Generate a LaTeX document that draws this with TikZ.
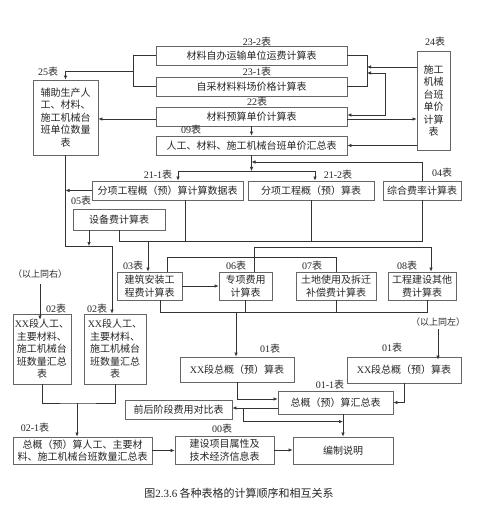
\documentclass[tikz,border=0pt]{standalone}
\usepackage{fontspec}
\setmainfont{Noto Sans CJK SC}
\newfontfamily\lat{Liberation Serif}
\usetikzlibrary{arrows.meta}
\newcommand{\tb}[1]{{\lat #1}表}

\begin{document}
\begin{tikzpicture}[x=1pt, y=-1pt,
  tbox/.style={draw=black!60, line width=0.8pt, fill=white, inner sep=0pt, align=center, text=black!85, font=\fontsize{10}{12.5}\selectfont},
  sz/.style 2 args={minimum width=#1pt, minimum height=#2pt},
  lbl/.style={inner sep=0pt, text=black!85, font=\fontsize{10}{12}\selectfont},
  note/.style={inner sep=0pt, text=black!85, font=\fontsize{9}{11}\selectfont},
  conn/.style={draw=black!80, line width=0.6pt},
  arr/.style={-{Latex[length=4pt,width=3.4pt]}},
  arr2/.style={{Latex[length=4pt,width=3.4pt]}-{Latex[length=4pt,width=3.4pt]}}]
\useasboundingbox (0,0) rectangle (480,510);

\node[tbox, sz={65}{75}] (b25) at (65.5,117.5) {辅助生产人\\工、材料、\\施工机械台\\班单位数量\\表};
\node[tbox, sz={191}{19}] (b232) at (251.5,55.5) {材料自办运输单位运费计算表};
\node[tbox, sz={191}{19}] (b231) at (251.5,86.5) {自采材料料场价格计算表};
\node[tbox, sz={191}{19}] (b22) at (251.5,116.5) {材料预算单价计算表};
\node[tbox, sz={191}{19}] (b09) at (251.5,145.5) {人工、材料、施工机械台班单价汇总表};
\node[tbox, sz={33}{99}] (b24) at (433.5,100.5) {施工\\机械\\台班\\单价\\计算\\表};
\node[tbox, sz={151}{19}] (b211) at (167.5,190.5) {分项工程概（预）算计算数据表};
\node[tbox, sz={126}{19}] (b212) at (311,190.5) {分项工程概（预）算表};
\node[tbox, sz={78}{19}] (b04) at (422,190.5) {综合费率计算表};
\node[tbox, sz={92}{21}] (b05) at (119,219.5) {设备费计算表};
\node[tbox, sz={65}{28}] (b03) at (149.5,286) {建筑安装工\\程费计算表};
\node[tbox, sz={53}{28}] (b06) at (245.5,286) {专项费用\\计算表};
\node[tbox, sz={80}{28}] (b07) at (336,286) {土地使用及拆迁\\补偿费计算表};
\node[tbox, sz={68}{28}] (b08) at (422,286) {工程建设其他\\费计算表};
\node[tbox, sz={114}{25}] (b01L) at (237,369.5) {{\lat XX}段总概（预）算表};
\node[tbox, sz={114}{26}] (b01R) at (404,370) {{\lat XX}段总概（预）算表};
\node[tbox, sz={58}{70}] (b02L) at (42,349) {{\lat XX}段人工、\\主要材料、\\施工机械台\\班数量汇总\\表};
\node[tbox, sz={62}{70}] (b02R) at (115,349) {{\lat XX}段人工、\\主要材料、\\施工机械台\\班数量汇总\\表};
\node[tbox, sz={139}{27}] (b021) at (82.5,450.5) {总概（预）算人工、主要材\\料、施工机械台班数量汇总表};
\node[tbox, sz={99}{28}] (b00) at (224.5,450) {建设项目属性及\\技术经济信息表};
\node[tbox, sz={107}{19}] (bqh) at (178.5,409.5) {前后阶段费用对比表};
\node[tbox, sz={115}{23}] (b011) at (335.5,402.5) {总概（预）算汇总表};
\node[tbox, sz={100}{27}] (bsm) at (343,450.5) {编制说明};

\node[lbl] (l25) at (48,72) {\tb{25}};
\node[lbl] (l232) at (257,42) {\tb{23-2}};
\node[lbl] (l231) at (257,72) {\tb{23-1}};
\node[lbl] (l22) at (257,102) {\tb{22}};
\node[lbl] (l09) at (191,130) {\tb{09}};
\node[lbl] (l24) at (435,42) {\tb{24}};
\node[lbl] (l211) at (158,175) {\tb{21-1}};
\node[lbl] (l212) at (338,175) {\tb{21-2}};
\node[lbl] (l04) at (442,173) {\tb{04}};
\node[lbl] (l05) at (81,201) {\tb{05}};
\node[lbl] (l03) at (133,266) {\tb{03}};
\node[lbl] (l06) at (236,266) {\tb{06}};
\node[lbl] (l07) at (312,266) {\tb{07}};
\node[lbl] (l08) at (407,266) {\tb{08}};
\node[lbl] (l01L) at (270,349) {\tb{01}};
\node[lbl] (l01R) at (392,348) {\tb{01}};
\node[lbl] (l02L) at (56,309) {\tb{02}};
\node[lbl] (l02R) at (97,309) {\tb{02}};
\node[lbl] (l021) at (35,428) {\tb{02-1}};
\node[lbl] (l00) at (222,429) {\tb{00}};
\node[lbl] (l011) at (330,385) {\tb{01-1}};
\node[note] (nl) at (40,274) {（以上同右）};
\node[note] (nr) at (438,322) {（以上同左）};
\node[text=black!85, font=\fontsize{11}{13}\selectfont] (cap) at (239,493) {图{\lat 2.3.6} 各种表格的计算顺序和相互关系};

\coordinate (jl) at (133,71);
\coordinate (jr) at (367,71);
\coordinate (jr1) at (367,67);
\coordinate (jr2) at (367,73);
\coordinate (k22) at (385,115);
\coordinate (j09) at (251.5,171);
\coordinate (j04) at (251.5,162);
\coordinate (j25) at (65.5,246);
\coordinate (jc) at (148,241);
\coordinate (jb) at (236,312);
\coordinate (j02) at (77,403);
\coordinate (jq) at (243,408);

\draw[conn] (b232.west) -| (jl);
\draw[conn] (b231.west) -| (jl);
\draw[conn,arr] (jl) -| (b25.north);
\draw[conn] (b232.east) -| (jr);
\draw[conn] (b231.east) -| (jr);
\draw[conn,arr] (b24.west |- jr1) -- (jr1);
\draw[conn,arr2] (b22.east |- k22) -- (k22) |- (jr2);
\draw[conn,arr] ([yshift=-2.5pt]b22.east) -- ([yshift=-2.5pt]b22.east -| b24.west);
\draw[conn,arr] (b24.west |- b09.east) -- (b09.east);
\draw[conn,arr] ([yshift=-2.5pt]b22.west) -- ([yshift=-2.5pt]b22.west -| b25.east);
\draw[conn,arr] (b22.south) -- (b09.north);

\draw[conn,arr] (b09.south) -- (j09);
\draw[conn,arr] (j09) -| ([xshift=10.5pt]b211.north);
\draw[conn,arr] (j09) -| ([xshift=4pt]b212.north);
\draw[conn,arr] (b04.north) |- (j04);
\draw[conn,arr] (b211.west) -- (b211.west -| b25.south);
\draw[conn,arr] (b25.south) -- (j25) -| ([xshift=-3pt]b02R.north);
\draw[conn,arr] ([xshift=-30pt]b05.south) -- ([xshift=-30pt]b05.south |- j25);

\draw[conn] (b05.south) |- (b04.south |- jc) -- (b04.south);
\draw[conn] ([xshift=17.5pt]b211.south) -- ([xshift=17.5pt]b211.south |- jc);
\draw[conn] (b212.south) -- (b212.south |- jc);
\draw[conn,arr] (jc) -- (b03.north -| jc);

\draw[conn] ([xshift=17.5pt]b03.north) -- ++(0,-14) -| (b07.north);
\draw[conn,arr] ([xshift=8.5pt]b06.north) -- ++(0,-24) -| ([xshift=9pt]b08.north);
\draw[conn,arr] (b03.east) -- (b03.east -| b06.west);

\draw[conn] ([xshift=10.5pt]b03.south) |- ([xshift=5pt]b08.south |- jb) -- ([xshift=5pt]b08.south);
\draw[conn] (b06.south) -- (b06.south |- jb);
\draw[conn] (b07.south) -- (b07.south |- jb);
\draw[conn,arr] (jb) -- (jb |- b01L.north);
\draw[conn,arr] ([yshift=-3pt]nr.south) -- ([yshift=-3pt]nr.south |- b01R.north);
\draw[conn,arr] ([yshift=-6pt]nl.south) -- ([yshift=-6pt]nl.south |- b02L.north);

\draw[conn] (b02L.south) |- (j02) -| (b02R.south);
\draw[conn,arr] (j02) -- (j02 |- b021.north);
\draw[conn,arr] (b021.east) -- (b021.east -| b00.west);
\draw[conn,arr] (b00.east) -- (b00.east -| bsm.west);

\draw[conn,arr] (b01L.south) |- ([yshift=3.5pt]b011.west);
\draw[conn,arr] (b01R.south) |- (b011.east);
\draw[conn,arr] ([yshift=-5.5pt]b011.west) -- ([yshift=-5.5pt]b011.west -| bqh.east);
\draw[conn,arr] (jq) |- ([yshift=15pt]bsm.north);
\draw[conn,arr] (b011.south -| bsm.north) -- (bsm.north);
\end{tikzpicture}
\end{document}
